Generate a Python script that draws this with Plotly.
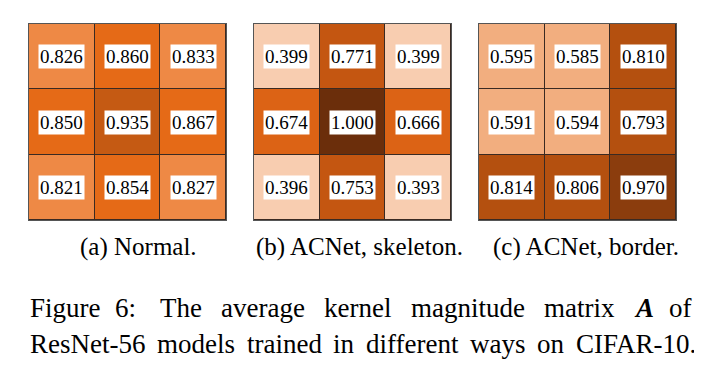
import plotly.graph_objects as go

# ---- data ----
rows = [0, 1, 2]
cols = [0, 1, 2]
normal_vals = [[0.826, 0.860, 0.833],
               [0.850, 0.935, 0.867],
               [0.821, 0.854, 0.827]]
skeleton_vals = [[0.399, 0.771, 0.399],
                 [0.674, 1.000, 0.666],
                 [0.396, 0.753, 0.393]]
border_vals = [[0.595, 0.585, 0.810],
               [0.591, 0.594, 0.793],
               [0.814, 0.806, 0.970]]
subcaptions = ["(a) Normal.", "(b) ACNet, skeleton.", "(c) ACNet, border."]
line1_words = ["Figure", "6:", "The", "average", "kernel", "magnitude", "matrix", "<b><i>A</i></b>", "of"]
line2_words = ["ResNet-56", "models", "trained", "in", "different", "ways", "on", "CIFAR-10."]

# ---- styles ----
W, H = 702, 365
SERIF = "Liberation Serif"

# value -> colour stops per panel
scale_a = [(0.821, "#EE8945"), (0.833, "#EE8945"), (0.850, "#E56A17"), (0.867, "#E56A17"), (0.935, "#C55A13")]
scale_b = [(0.393, "#F8CDB0"), (0.399, "#F8CDB0"), (0.666, "#DC6315"), (0.674, "#DC6315"),
           (0.753, "#C45611"), (0.771, "#C45611"), (1.000, "#6B2E0B")]
scale_c = [(0.585, "#F2AE7F"), (0.595, "#F2AE7F"), (0.793, "#B4500F"), (0.814, "#B4500F"), (0.970, "#8B3D0D")]


def to_colorscale(stops):
    lo, hi = stops[0][0], stops[-1][0]
    return [[(v - lo) / (hi - lo), c] for v, c in stops], lo, hi


panels = [
    (normal_vals, scale_a, (21, 218)),
    (skeleton_vals, scale_b, (246, 443)),
    (border_vals, scale_c, (471, 668)),
]
y_px = (16, 212)
sub_x = [130, 351, 578]
sub_y = 239
PAD = 2  # annotation border + pad
line1_x = [22, 106.5, 152, 213, 316, 403, 536, 626, 661]
line2_x = [22, 149, 238.5, 325, 357.5, 462, 529, 567.5]
line1_y = 299.5
line2_y = 336

fig = go.Figure()
annotations = []
for i, (vals, stops, (x0, x1)) in enumerate(panels):
    cs, lo, hi = to_colorscale(stops)
    ax = "" if i == 0 else str(i + 1)
    fig.add_trace(go.Heatmap(
        z=vals, x=cols, y=rows, colorscale=cs, zmin=lo, zmax=hi,
        showscale=False, xgap=1, ygap=1, hoverinfo="skip",
        xaxis="x" + ax, yaxis="y" + ax,
    ))
    fig.update_layout(**{
        "xaxis" + ax: dict(domain=[x0 / W, x1 / W], range=[-0.5, 2.5], showticklabels=False,
                           showgrid=False, zeroline=False, showline=True, mirror=True,
                           linecolor="#555555", linewidth=1, anchor="y" + ax),
        "yaxis" + ax: dict(domain=[1 - y_px[1] / H, 1 - y_px[0] / H], range=[2.5, -0.5],
                           showticklabels=False, showgrid=False, zeroline=False, showline=True,
                           mirror=True, linecolor="#555555", linewidth=1, anchor="x" + ax),
    })
    for r in rows:
        for c in cols:
            annotations.append(dict(
                x=c, y=r, xref="x" + ax, yref="y" + ax, text=f"{vals[r][c]:.3f}",
                showarrow=False, bgcolor="white", borderpad=1,
                font=dict(family=SERIF, size=19, color="black"),
            ))
    annotations.append(dict(
        x=sub_x[i] / W, y=1 - sub_y / H, xref="paper", yref="paper", text=subcaptions[i],
        showarrow=False, xanchor="center", yanchor="middle",
        font=dict(family=SERIF, size=25, color="black"),
    ))

for xs, words, ly in ((line1_x, line1_words, line1_y), (line2_x, line2_words, line2_y)):
    for wx, w in zip(xs, words):
        annotations.append(dict(x=(wx - PAD) / W, y=1 - ly / H, xref="paper", yref="paper", text=w,
                                showarrow=False, xanchor="left", yanchor="middle",
                                font=dict(family=SERIF, size=27, color="black")))

fig.update_layout(
    width=W, height=H, margin=dict(l=0, r=0, t=0, b=0),
    paper_bgcolor="white", plot_bgcolor="#3a2a22",
    annotations=annotations, showlegend=False,
)
fig.write_html("out.html")
